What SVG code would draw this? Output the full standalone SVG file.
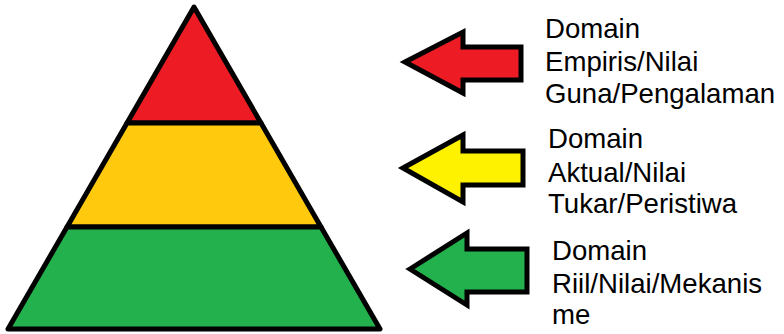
<svg xmlns="http://www.w3.org/2000/svg" width="784" height="334" viewBox="0 0 784 334">
<style>
.lay{stroke:#000;stroke-width:5;stroke-linejoin:round}
.arr{stroke:#000;stroke-width:5;stroke-linejoin:miter}
.lbl{font-family:"Liberation Sans",Arial,sans-serif;font-size:27.6px;fill:#000}
</style>
<rect width="784" height="334" fill="#fff"/>
<g id="pyramid">
<g id="layer-top"><polygon class="lay" points="194,7 127,123 261,123" fill="#ed1c24"/></g>
<g id="layer-middle"><polygon class="lay" points="127,123 261,123 321,227 67,227" fill="#ffc90e"/></g>
<g id="layer-bottom"><polygon class="lay" points="67,227 321,227 380,329 8,329" fill="#22b14c"/></g>
</g>
<g id="connectors">
<polygon class="arr" points="405,62 463,32 463,47 521,47 521,80 463,80 463,93" fill="#ed1c24"/>
<polygon class="arr" points="403,168 463,135 463,151 523,151 523,185 463,185 463,202" fill="#fff200"/>
<polygon class="arr" points="410,269 467,233 467,249 527,249 527,292 467,292 467,305" fill="#22b14c"/>
</g>
<g id="label-1">
<text class="lbl" x="545" y="38">Domain</text>
<text class="lbl" x="545" y="71">Empiris/Nilai</text>
<text class="lbl" x="545" y="103">Guna/Pengalaman</text>
</g>
<g id="label-2">
<text class="lbl" x="548" y="148">Domain</text>
<text class="lbl" x="548" y="182">Aktual/Nilai</text>
<text class="lbl" x="548" y="213">Tukar/Peristiwa</text>
</g>
<g id="label-3">
<text class="lbl" x="552" y="260">Domain</text>
<text class="lbl" x="552" y="293">Riil/Nilai/Mekanis</text>
<text class="lbl" x="552" y="324">me</text>
</g>
</svg>
